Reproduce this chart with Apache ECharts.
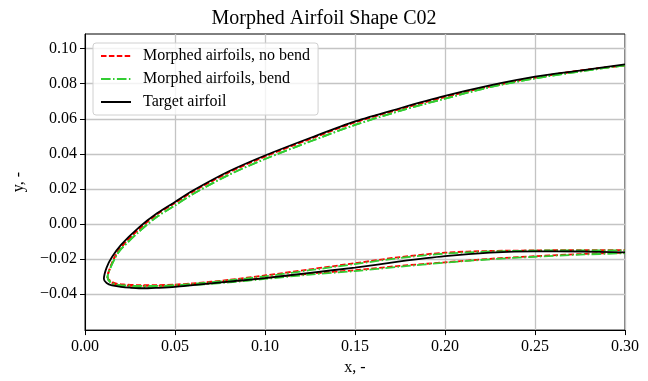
<!DOCTYPE html>
<html>
<head>
<meta charset="utf-8">
<script src="https://cdn.jsdelivr.net/npm/echarts@6/dist/echarts.min.js"></script>
<style>
  html, body { margin: 0; padding: 0; background: #fff; }
  #chart { width: 648px; height: 381px; }
</style>
</head>
<body>
<div id="chart"></div>
<script>
// target airfoil, leading edge -> x = 0.30
var targetUpperX = [0.0105, 0.012, 0.015, 0.02, 0.03, 0.04, 0.05, 0.06, 0.08, 0.10, 0.125, 0.15, 0.175, 0.20, 0.225, 0.25, 0.275, 0.30];
var targetUpperY = [-0.0315, -0.025, -0.019, -0.012, -0.002, 0.006, 0.0125, 0.019, 0.030, 0.039, 0.049, 0.0585, 0.066, 0.073, 0.079, 0.084, 0.0875, 0.091];
var targetLowerX = [0.0105, 0.012, 0.015, 0.02, 0.025, 0.03, 0.035, 0.04, 0.05, 0.06, 0.08, 0.10, 0.125, 0.15, 0.175, 0.20, 0.225, 0.25, 0.275, 0.30];
var targetLowerY = [-0.0315, -0.0338, -0.0352, -0.036, -0.0365, -0.0368, -0.0368, -0.0366, -0.036, -0.035, -0.033, -0.031, -0.028, -0.025, -0.0215, -0.0185, -0.0165, -0.0157, -0.0158, -0.0163];

// morphed airfoils
var morphX = [0.0125, 0.014, 0.017, 0.02, 0.03, 0.04, 0.05, 0.06, 0.08, 0.10, 0.125, 0.15, 0.175, 0.20, 0.225, 0.25, 0.275, 0.30];
var noBendUpper = [-0.0305, -0.025, -0.018, -0.0135, -0.003, 0.0055, 0.012, 0.0185, 0.0295, 0.0385, 0.0485, 0.058, 0.0655, 0.0725, 0.0785, 0.0835, 0.0875, 0.0905];
var noBendLowerA = [-0.0305, -0.0325, -0.034, -0.0345, -0.035, -0.035, -0.0347, -0.034, -0.032, -0.0295, -0.026, -0.0225, -0.019, -0.0165, -0.0155, -0.0152, -0.015, -0.015];
var noBendLowerB = [-0.0305, -0.033, -0.0345, -0.035, -0.0355, -0.0355, -0.0352, -0.0347, -0.033, -0.031, -0.0285, -0.0265, -0.024, -0.022, -0.020, -0.0185, -0.0173, -0.0165];
var bendUpper = [-0.0305, -0.0255, -0.019, -0.0145, -0.0045, 0.004, 0.0105, 0.017, 0.028, 0.037, 0.047, 0.0565, 0.0645, 0.0715, 0.078, 0.083, 0.087, 0.0905];
var bendLowerA = [-0.0305, -0.033, -0.0345, -0.035, -0.0355, -0.0355, -0.035, -0.0343, -0.0323, -0.030, -0.0265, -0.023, -0.0195, -0.017, -0.0158, -0.0153, -0.0152, -0.0152];
var bendLowerB = [-0.0305, -0.0335, -0.035, -0.0357, -0.0362, -0.036, -0.0357, -0.035, -0.0335, -0.0315, -0.029, -0.027, -0.0245, -0.0222, -0.0203, -0.0188, -0.0176, -0.0168];

var yTicks = [-0.04, -0.02, 0.00, 0.02, 0.04, 0.06, 0.08, 0.10];
var names = ['Morphed airfoils, no bend', 'Morphed airfoils, bend', 'Target airfoil'];

var font = 'Liberation Serif';

function contour(ux, uy, lx, ly) {
  var pts = [];
  for (var i = ux.length - 1; i >= 0; i--) pts.push([ux[i], uy[i]]);
  for (var j = 1; j < lx.length; j++) pts.push([lx[j], ly[j]]);
  return pts;
}

function fmt(v) {
  var s = Math.abs(v).toFixed(2);
  return v < -1e-9 ? '\u2212' + s : s;
}

function line(name, data, color, type, width) {
  return {
    name: name,
    type: 'line',
    data: data,
    symbol: 'none',
    smooth: 0.3,
    clip: true,
    lineStyle: { color: color, width: width, type: type },
    itemStyle: { color: color },
    emphasis: { disabled: true }
  };
}

var chartDom = document.getElementById('chart');
var myChart = echarts.init(chartDom);
var option;

var red = '#ff0000', green = '#32cd32';
var dashed = [5.5, 2.4], dashDot = [9.6, 2.4, 1.5, 2.4];

option = {
  animation: false,
  backgroundColor: '#fff',
  title: {
    text: 'Morphed Airfoil Shape C02',
    left: 'center',
    top: 4,
    padding: [5, 0, 5, 62],
    textStyle: { fontFamily: font, fontSize: 20, fontWeight: 'normal', color: '#000' }
  },
  legend: {
    data: names,
    orient: 'vertical',
    left: 93,
    top: 43,
    padding: [5, 8, 5, 7],
    itemWidth: 30,
    itemHeight: 14,
    itemGap: 7,
    borderColor: '#d0d0d0',
    borderWidth: 1,
    borderRadius: 3,
    backgroundColor: 'rgba(255,255,255,0.8)',
    itemStyle: { opacity: 0 },
    textStyle: { fontFamily: font, fontSize: 16, color: '#000', lineHeight: 14, padding: [0, 0, 0, 7] }
  },
  grid: {
    left: 85, right: 23, top: 34, bottom: 46,
    show: true, borderColor: '#000', borderWidth: 1, backgroundColor: '#fff'
  },
  xAxis: {
    type: 'value',
    min: 0, max: 0.30, interval: 0.05,
    name: 'x, -',
    nameLocation: 'middle',
    nameGap: 29,
    nameTextStyle: { fontFamily: font, fontSize: 16, color: '#000' },
    axisLine: { show: true, onZero: false, lineStyle: { color: '#000', width: 1 } },
    axisTick: { show: true, length: 5, lineStyle: { color: '#000' } },
    axisLabel: { fontFamily: font, fontSize: 16, color: '#000', margin: 9, formatter: fmt },
    splitLine: { show: true, lineStyle: { color: '#c4c4c4', width: 1.3 } }
  },
  yAxis: {
    type: 'value',
    min: -0.0607, max: 0.1084,
    name: 'y, -',
    nameLocation: 'middle',
    nameGap: 58,
    nameTextStyle: { fontFamily: font, fontSize: 16, color: '#000' },
    axisLine: { show: true, onZero: false, lineStyle: { color: '#000', width: 1 } },
    axisTick: { show: true, length: 5, customValues: yTicks, lineStyle: { color: '#000' } },
    axisLabel: { fontFamily: font, fontSize: 16, color: '#000', margin: 8, customValues: yTicks, formatter: fmt },
    splitLine: { show: true, lineStyle: { color: '#c4c4c4', width: 1.3 } }
  },
  series: [
    line(names[0], contour(morphX, noBendUpper, morphX, noBendLowerA), red, dashed, 1.8),
    line(names[0], contour(morphX, noBendUpper, morphX, noBendLowerB), red, dashed, 1.8),
    line(names[1], contour(morphX, bendUpper, morphX, bendLowerA), green, dashDot, 1.8),
    line(names[1], contour(morphX, bendUpper, morphX, bendLowerB), green, dashDot, 1.8),
    line(names[2], contour(targetUpperX, targetUpperY, targetLowerX, targetLowerY), '#000', 'solid', 1.8)
  ]
};

option && myChart.setOption(option);
</script>
</body>
</html>
